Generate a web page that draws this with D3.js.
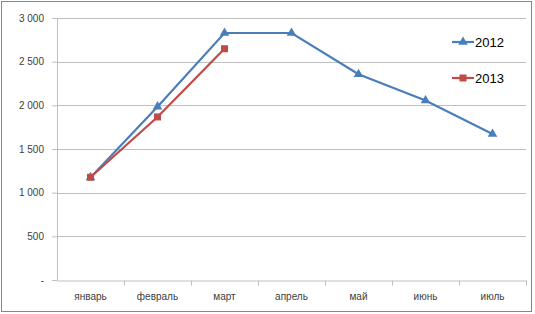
<!DOCTYPE html>
<html>
<head>
<meta charset="utf-8">
<script src="https://cdn.jsdelivr.net/npm/d3@7"></script>
<style>
  body { margin: 0; background: #fff; }
  svg text { font-family: "Liberation Sans", Arial, sans-serif; }
</style>
</head>
<body>
<svg id="chart"></svg>
<script>
'use strict';

// data
var months = ['январь', 'февраль', 'март', 'апрель', 'май', 'июнь', 'июль'];
var series2012 = [1175, 1985, 2828, 2828, 2356, 2056, 1672];
var series2013 = [1176, 1867, 2648];
var yTicks = [0, 500, 1000, 1500, 2000, 2500, 3000];
var seriesNames = ['2012', '2013'];

// chart size
var W = 535, H = 314;
var margin = { top: 18, right: 9, bottom: 34, left: 57 };
var width  = 526 - margin.left;
var height = 280 - margin.top;

var svg = d3.select('#chart').attr('width', W).attr('height', H);

// outer frame
svg.append('rect')
  .attr('x', 1.5).attr('y', 1.5).attr('width', 530).attr('height', 310)
  .attr('fill', '#fff').attr('stroke', '#868686').attr('stroke-width', 1);

var g = svg.append('g')
  .attr('transform', 'translate(' + margin.left + ',' + margin.top + ')');

var x = d3.scaleBand().domain(months).range([0, width]);
var y = d3.scaleLinear().domain([0, 3000]).range([height, 0]);

// grid
g.selectAll('.grid').data(yTicks.slice(1)).enter().append('line')
  .attr('x1', 0).attr('x2', width)
  .attr('y1', function(d){ return Math.round(y(d)) + 0.5; })
  .attr('y2', function(d){ return Math.round(y(d)) + 0.5; })
  .attr('stroke', '#bfbfbf').attr('stroke-width', 1);

// y axis
var yAxis = g.append('g')
  .call(d3.axisLeft(y).tickValues(yTicks).tickSize(5).tickPadding(8)
    .tickFormat(function(d){
      if (d === 0) return '-';
      return d3.format(',')(d).replace(',', ' ');
    }));
yAxis.select('.domain').attr('stroke', '#bfbfbf').attr('d', 'M-5,' + (height + 0.5) + 'H0.5V0');
yAxis.selectAll('.tick line').attr('stroke', '#bfbfbf');
yAxis.selectAll('text').attr('fill', '#404040').style('font-size', '10px');

// x axis
var xAxis = g.append('g')
  .attr('transform', 'translate(0,' + (height + 0.5) + ')')
  .call(d3.axisBottom(x).tickSize(0).tickPadding(12));
xAxis.select('.domain').attr('stroke', '#bfbfbf');
xAxis.selectAll('text').attr('fill', '#404040').style('font-size', '10px');
xAxis.selectAll('.sep').data(months).enter().append('line')
  .attr('x1', function(d){ return x(d) + x.bandwidth() + 0.5; })
  .attr('x2', function(d){ return x(d) + x.bandwidth() + 0.5; })
  .attr('y1', 0).attr('y2', 5)
  .attr('stroke', '#bfbfbf');

function cx(i){ return x(months[i]) + x.bandwidth() / 2; }

var line = d3.line()
  .x(function(d, i){ return cx(i); })
  .y(function(d){ return y(d); });

// 2012
var blue = '#4a7ebb', red = '#be4b48';
g.append('path').datum(series2012)
  .attr('fill', 'none').attr('stroke', blue).attr('stroke-width', 2.2).attr('d', line);
var tri = d3.symbol().type(d3.symbolTriangle).size(40);
g.selectAll('.m12').data(series2012).enter().append('path')
  .attr('d', tri)
  .attr('transform', function(d, i){ return 'translate(' + cx(i) + ',' + y(d) + ')'; })
  .attr('fill', blue);

// 2013
g.append('path').datum(series2013)
  .attr('fill', 'none').attr('stroke', red).attr('stroke-width', 2.2).attr('d', line);
g.selectAll('.m13').data(series2013).enter().append('rect')
  .attr('x', function(d, i){ return cx(i) - 3.5; })
  .attr('y', function(d){ return y(d) - 3.5; })
  .attr('width', 7).attr('height', 7)
  .attr('fill', red);

// legend
var legend = svg.append('g').attr('transform', 'translate(452,0)');
var legendY = [42, 78];
var colors = [blue, red];
seriesNames.forEach(function(name, i){
  var row = legend.append('g').attr('transform', 'translate(0,' + legendY[i] + ')');
  row.append('line').attr('x1', 0).attr('x2', 22).attr('y1', 0).attr('y2', 0)
    .attr('stroke', colors[i]).attr('stroke-width', 2.2);
  if (i === 0) {
    row.append('path').attr('d', tri).attr('transform', 'translate(11,0)').attr('fill', colors[i]);
  } else {
    row.append('rect').attr('x', 7.5).attr('y', -3.5).attr('width', 7).attr('height', 7).attr('fill', colors[i]);
  }
  row.append('text').attr('x', 23).attr('y', 5).text(name)
    .style('font-size', '13px').attr('fill', '#000');
});
</script>
</body>
</html>
